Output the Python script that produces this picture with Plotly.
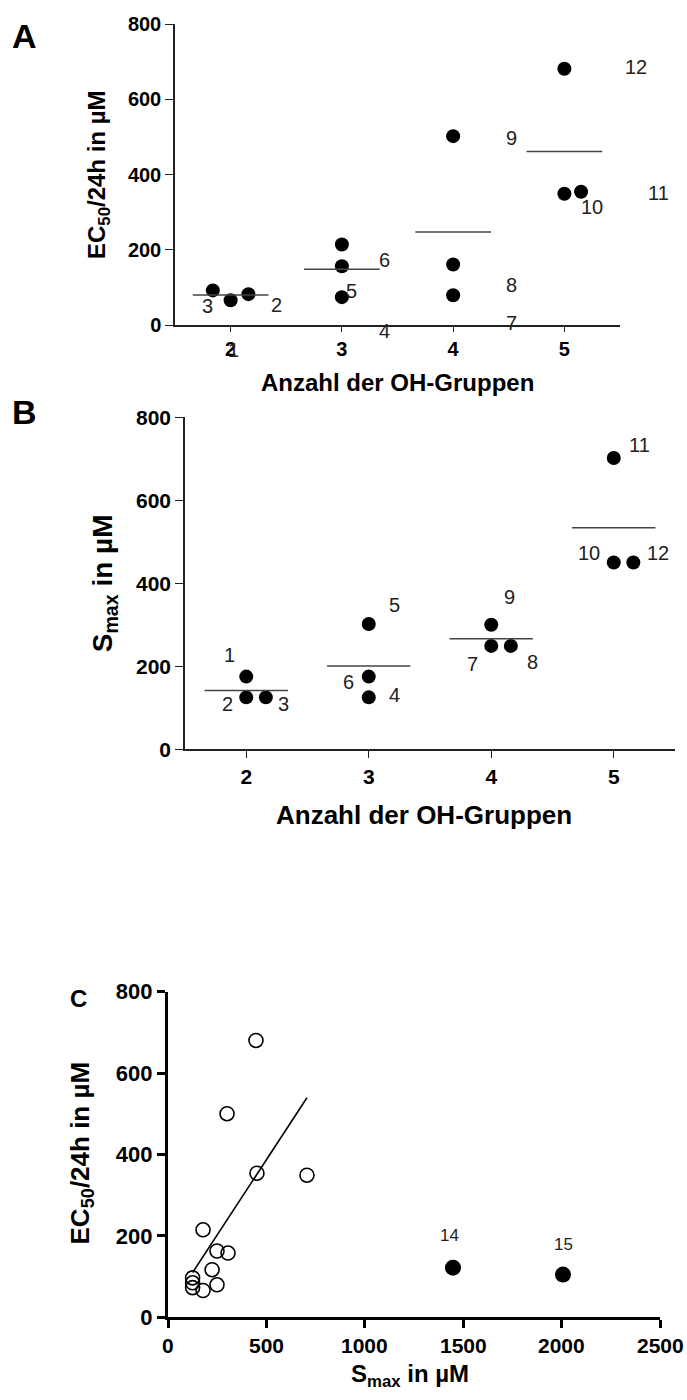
import numpy as np
import plotly.graph_objects as go

# ---------------- data ----------------
COMPOUNDS = [1, 2, 3, 4, 5, 6, 7, 8, 9, 10, 11, 12]
OH_GROUPS = [2, 2, 2, 3, 3, 3, 4, 4, 4, 5, 5, 5]
EC50_24H = [66, 82, 92, 74, 156, 214, 79, 161, 502, 354, 349, 681]
SMAX = [175, 125, 125, 125, 302, 175, 249, 249, 300, 450, 702, 450]

C_OPEN_IDS = [1, 2, 3, 4, 5, 6, 7, 8, 9, 10, 11, 12, 13]
C_OPEN_SMAX = [178, 125, 125, 125, 305, 178, 249, 249, 300, 452, 706, 447, 224]
C_OPEN_EC50 = [66, 85, 97, 73, 158, 215, 80, 163, 500, 354, 349, 680, 117]
C_FILLED_IDS = [14, 15]
C_FILLED_SMAX = [1448, 2007]
C_FILLED_EC50 = [122, 105]

X_TICKS_AB = [2, 3, 4, 5]
Y_TICKS = [0, 200, 400, 600, 800]
X_TICKS_C = [0, 500, 1000, 1500, 2000, 2500]

# ---------------- styling / placement ----------------
W, H = 687, 1400
# measured mapping of the photographed page: picture_y = SY * figure_y + OY
SY, OY = 0.9887, 7.9
FONT = "Liberation Sans, Arial, sans-serif"
JITTER_A = [0, 0.16, -0.16, 0, 0, 0, 0, 0, 0, 0.15, 0, 0]
JITTER_B = [0, 0, 0.16, 0, 0, 0, 0, 0.16, 0, 0, 0, 0.16]
# label offsets in pixels (dx right, dy down) from each point
LAB_A = {1: (3, 49), 2: (28, 11), 3: (-5, 15), 4: (43, 33), 5: (10, 24), 6: (43, 15),
         7: (58, 27), 8: (58, 20), 9: (58, 2), 10: (11, 15), 11: (94, -1), 12: (72, -2)}
LAB_B = {1: (-17, -21), 2: (-19, 7), 3: (18, 7), 4: (26, -2), 5: (26, -19), 6: (-20, 5),
         7: (-19, 18), 8: (22, 16), 9: (18, -27), 10: (-25, -9), 11: (26, -13), 12: (25, -9)}
LAB_C = {14: (-3, -32), 15: (1, -30)}


def fy(py):
    """picture pixel row -> figure pixel row"""
    return (py - OY) / SY


def pap_y(py):
    return 1 - fy(py) / H


def dom_x(a, b):
    return [a / W, b / W]


def dom_y(top, bottom):
    return [pap_y(bottom), pap_y(top)]


fig = go.Figure()

# ---- Panel A & B: scatter by OH groups with mean lines ----
for xa, ya, vals, jit, labs in [("x", "y", EC50_24H, JITTER_A, LAB_A),
                                ("x2", "y2", SMAX, JITTER_B, LAB_B)]:
    xs = [g + j for g, j in zip(OH_GROUPS, jit)]
    fig.add_trace(go.Scatter(x=xs, y=vals, mode="markers", xaxis=xa, yaxis=ya,
                             marker=dict(size=14, color="black"), cliponaxis=False,
                             showlegend=False, hoverinfo="skip"))
    for g in sorted(set(OH_GROUPS)):
        gv = [v for v, gg in zip(vals, OH_GROUPS) if gg == g]
        m = float(np.mean(gv))
        fig.add_trace(go.Scatter(x=[g - 0.34, g + 0.34], y=[m, m], mode="lines",
                                 xaxis=xa, yaxis=ya, line=dict(color="#444", width=1.5),
                                 showlegend=False, hoverinfo="skip"))
    for cid, x, v in zip(COMPOUNDS, xs, vals):
        dx, dy = labs[cid]
        fig.add_annotation(x=x, y=v, xref=xa, yref=ya, text=str(cid), showarrow=False,
                           xshift=dx, yshift=-dy / SY,
                           font=dict(family=FONT, size=20, color="#222"))

# ---- Panel C ----
coef = np.polyfit(C_OPEN_SMAX, C_OPEN_EC50, 1)
fx = np.array([min(C_OPEN_SMAX), max(C_OPEN_SMAX)])
fig.add_trace(go.Scatter(x=fx, y=np.polyval(coef, fx), mode="lines", xaxis="x3", yaxis="y3",
                         line=dict(color="black", width=1.6), showlegend=False, hoverinfo="skip"))
fig.add_trace(go.Scatter(x=C_OPEN_SMAX, y=C_OPEN_EC50, mode="markers", xaxis="x3", yaxis="y3",
                         marker=dict(size=14, symbol="circle-open", color="black",
                                     line=dict(width=1.6, color="black")),
                         cliponaxis=False, showlegend=False, hoverinfo="skip"))
fig.add_trace(go.Scatter(x=C_FILLED_SMAX, y=C_FILLED_EC50, mode="markers", xaxis="x3", yaxis="y3",
                         marker=dict(size=16, color="black"),
                         cliponaxis=False, showlegend=False, hoverinfo="skip"))
for cid, x, v in zip(C_FILLED_IDS, C_FILLED_SMAX, C_FILLED_EC50):
    dx, dy = LAB_C[cid]
    fig.add_annotation(x=x, y=v, xref="x3", yref="y3", text=str(cid), showarrow=False,
                       xshift=dx, yshift=-dy / SY, font=dict(family=FONT, size=17, color="#222"))

# x tick labels of panel C, placed at the axis values
for v in X_TICKS_C:
    fig.add_annotation(x=v, xref="x3", y=pap_y(1350), yref="paper", text=str(v),
                       showarrow=False, xanchor="center", yanchor="middle",
                       font=dict(family=FONT, size=21, color="black", weight="bold"))

# ---- axes ----
ab_axis = dict(showgrid=False, zeroline=False, showline=True, linecolor="#222", linewidth=1.5,
               ticks="outside", tickcolor="#222", tickwidth=1.3, color="black")
tick_font = dict(family=FONT, size=20, color="black", weight="bold")

fig.update_layout(
    width=W, height=H, margin=dict(l=0, r=0, t=0, b=0),
    paper_bgcolor="white", plot_bgcolor="white", showlegend=False,
    xaxis=dict(domain=dom_x(175, 620), range=[1.5, 5.5], anchor="y", tickvals=X_TICKS_AB,
               ticklen=5, ticklabelstandoff=0, tickfont=tick_font, **ab_axis),
    yaxis=dict(domain=dom_y(20, 323), range=[0, 800], anchor="x", tickvals=Y_TICKS,
               ticklen=8, tickfont=tick_font, **ab_axis),
    xaxis2=dict(domain=dom_x(185, 675), range=[1.5, 5.5], anchor="y2", tickvals=X_TICKS_AB,
                ticklen=7, ticklabelstandoff=1, tickfont=dict(tick_font, size=21), **ab_axis),
    yaxis2=dict(domain=dom_y(416, 750), range=[0, 800], anchor="x2", tickvals=Y_TICKS,
                ticklen=8, tickfont=dict(tick_font, size=21), **ab_axis),
    xaxis3=dict(domain=dom_x(168, 660), range=[0, 2500], anchor="y3", tickvals=X_TICKS_C,
                showticklabels=False,
                showgrid=False, zeroline=False, showline=True, linecolor="black", linewidth=3.2,
                ticks="outside", ticklen=8, tickwidth=3, tickcolor="black"),
    yaxis3=dict(domain=dom_y(994, 1322), range=[0, 800], anchor="x3", tickvals=Y_TICKS,
                showgrid=False, zeroline=False, showline=True, linecolor="black", linewidth=3.2,
                ticks="outside", ticklen=8, tickwidth=3, tickcolor="black",
                tickfont=dict(tick_font, size=22)),
)


def ann(px, py, text, size, angle=0, bold=True):
    fig.add_annotation(x=px / W, y=pap_y(py), xref="paper", yref="paper", text=text,
                       showarrow=False, textangle=angle, xanchor="center", yanchor="middle",
                       font=dict(family=FONT, size=size, color="black",
                                 weight="bold" if bold else "normal"))


# panel letters
ann(25, 32, "A", 34)
ann(25, 411, "B", 34)
ann(78, 1001, "C", 24)
# axis titles
ann(98, 172, "EC<sub>50</sub>/24h in µM", 24, -90)
ann(397, 381, "Anzahl der OH-Gruppen", 24)
ann(104, 583, "S<sub>max</sub> in µM", 28, -90)
ann(424, 816, "Anzahl der OH-Gruppen", 26)
ann(81, 1157, "EC<sub>50</sub>/24h in µM", 26, -90)
ann(410, 1381, "S<sub>max</sub> in µM", 24)

fig.write_html("out.html", config={"displayModeBar": False},
               post_script="document.body.style.margin='0';"
                           "document.documentElement.style.overflow='hidden';")
